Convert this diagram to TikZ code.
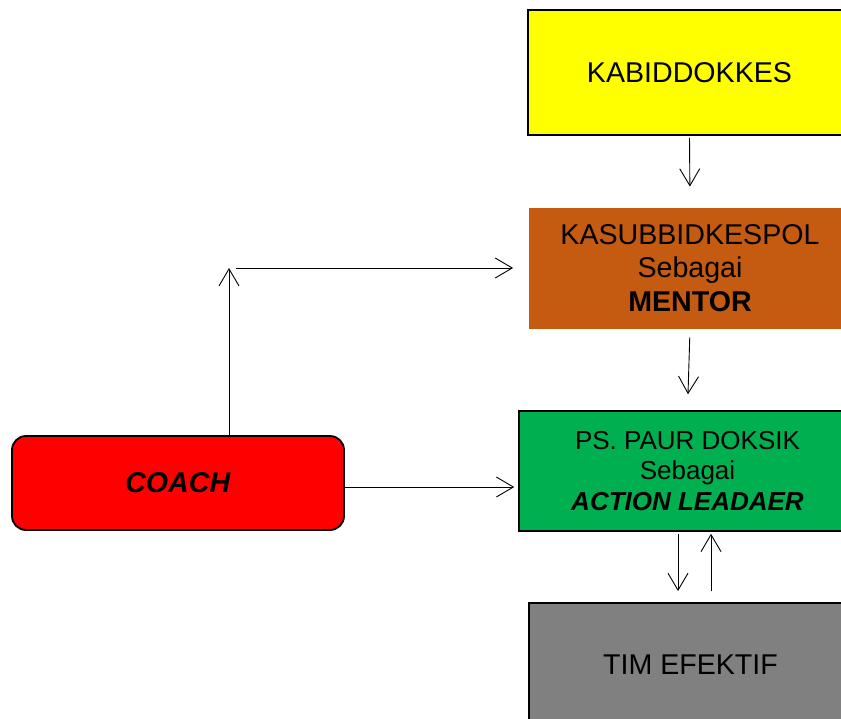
\documentclass[tikz,border=0pt]{standalone}
\usepackage{fontspec}
\setmainfont{Liberation Sans}
\usepackage{xcolor}
\usepackage{tikz}
\usetikzlibrary{calc,arrows.meta}
\definecolor{kabidYellow}{HTML}{FFFF00}
\definecolor{mentorOrange}{HTML}{C55A11}
\definecolor{leaderGreen}{HTML}{00B050}
\definecolor{timGray}{HTML}{808080}
\definecolor{coachRed}{HTML}{FF0000}
\newcommand{\pageWidth}{841}
\newcommand{\pageHeight}{718}
\newcommand{\bigText}{\fontsize{28.6pt}{33.5pt}\selectfont}
\newcommand{\smallText}{\fontsize{26pt}{30.5pt}\selectfont}
\newcommand{\sebagai}{Sebagai}

\begin{document}
\begin{tikzpicture}[x=1pt,y=-1pt,
	box/.style={rectangle, inner sep=0pt, align=center, draw=black, line width=1.8pt, font=\bigText},
	link/.style={-{Straight Barb[length=17pt,width=20pt]}, line width=0.9pt}]

	\useasboundingbox (0,0) rectangle (\pageWidth,\pageHeight);
	\clip (0,0) rectangle (\pageWidth,\pageHeight);

	% column of boxes on the right
	\node[box, fill=kabidYellow, minimum width=323pt, minimum height=125pt] (kabid) at (689.5,72.5) {KABIDDOKKES};
	\node[box, draw=none, fill=mentorOrange, minimum width=322pt, minimum height=121pt] (mentor) at (690,268) {KASUBBIDKESPOL\\\sebagai\\\textbf{MENTOR}};
	\node[box, line width=1.5pt, font=\smallText, fill=leaderGreen, minimum width=337pt, minimum height=120pt] (leader) at (687.5,471) {PS. PAUR DOKSIK\\\sebagai\\\textbf{\textit{ACTION LEADAER}}};
	\node[box, fill=timGray, minimum width=323pt, minimum height=124pt] (tim) at (690.5,665) {TIM EFEKTIF};

	% coach on the left
	\node[box, rounded corners=14pt, fill=coachRed, minimum width=332pt, minimum height=94pt] (coach) at (178,483) {\textbf{\textit{COACH}}};

	% connectors
	\draw[link, shorten <=2pt, shorten >=20pt] (kabid.south) -- (mentor.north);
	\draw[link, shorten <=8pt, shorten >=16pt] (mentor.south) -- (leader.north);
	\draw[link, shorten <=2pt, shorten >=11pt] ([xshift=-12.5pt]leader.south -| tim.north) -- ([xshift=-12.5pt]tim.north);
	\draw[link, shorten <=11pt, shorten >=2pt] ([xshift=20.5pt]tim.north) -- ([xshift=20.5pt]leader.south -| tim.north);
	\draw[link, shorten >=4pt] ([yshift=-4pt]coach.east) -- ([yshift=-4pt]coach.east -| leader.west);

	\coordinate (turn) at ([xshift=51pt]coach.north |- mentor.west);
	\draw[link] ([xshift=51pt]coach.north) -- (turn);
	\draw[link, shorten <=7pt, shorten >=15pt] (turn) -- (turn -| mentor.west);
\end{tikzpicture}
\end{document}
